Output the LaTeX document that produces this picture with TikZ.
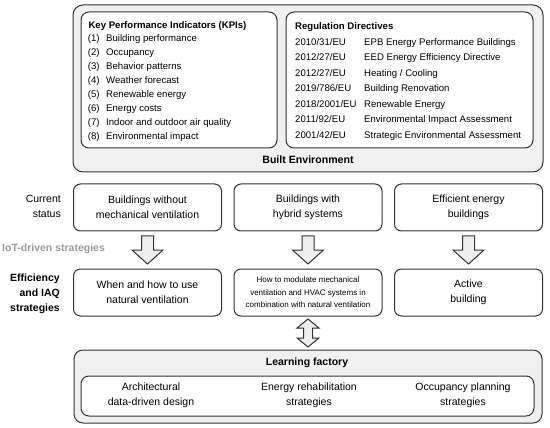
\documentclass[tikz,border=0pt]{standalone}
\usepackage{fontspec}
\setmainfont{Liberation Sans}
\usetikzlibrary{calc}
\definecolor{linec}{HTML}{333333}
\definecolor{panel}{HTML}{F0F0F0}
\definecolor{arrowfill}{HTML}{EEEEEE}
\definecolor{iotgray}{HTML}{999999}
\begin{document}
\begin{tikzpicture}[x=1pt,y=-1pt,
  panelnode/.style={draw=linec, line width=1pt, rounded corners=10pt, fill=panel, inner sep=0pt},
  innernode/.style={draw=linec, line width=1pt, rounded corners=8pt, fill=white, inner sep=0pt},
  stagebox/.style={draw=linec, line width=1pt, rounded corners=7pt, fill=white, minimum width=148pt, minimum height=47pt, inner sep=0pt, align=center, font=\fontsize{10.5}{15}\selectfont},
  smallbox/.style={stagebox, font=\fontsize{8}{12.5}\selectfont},
  listtext/.style={anchor=base west, inner sep=0pt, font=\fontsize{9.6}{12}\selectfont},
  listtitle/.style={anchor=base west, inner sep=0pt, font=\fontsize{9.6}{12}\selectfont\bfseries},
  sidelabel/.style={anchor=east, inner sep=0pt, align=right, font=\fontsize{10.5}{15}\selectfont},
  coltext/.style={inner sep=0pt, align=center, font=\fontsize{10.5}{15}\selectfont},
  arrowstyle/.style={draw=linec, line width=1pt, fill=arrowfill, line join=miter},
  downarr/.pic={\draw[arrowstyle] (-6,-14) -- (6,-14) -- (6,0) -- (15.5,0) -- (0,14) -- (-15.5,0) -- (-6,0) -- cycle;},
  updownarr/.pic={\draw[arrowstyle] (0,-14) -- (11,-5) -- (4.5,-5) -- (4.5,5) -- (11,5) -- (0,14) -- (-11,5) -- (-4.5,5) -- (-4.5,-5) -- (-11,-5) -- cycle;}
]
\useasboundingbox (0,0) rectangle (550,428);

% Built environment panel
\node[panelnode, minimum width=470pt, minimum height=167pt] (built) at (308,88.5) {};
\node[innernode, minimum width=196pt, minimum height=136pt] (kpi) at (179,80) {};
\node[innernode, minimum width=247pt, minimum height=136pt] (reg) at (409.5,80) {};

\node[listtitle] (kpititle) at (88.3,28.5) {Key Performance Indicators (KPIs)};
\foreach \t [count=\i from 0] in {Building performance, Occupancy, Behavior patterns, Weather forecast, Renewable energy, Energy costs, Indoor and outdoor air quality, Environmental impact}{
  \pgfmathtruncatemacro{\n}{\i+1}
  \node[listtext] (kpinum\n) at (87.7,{41.7+14*\i}) {(\n)};
  \node[listtext] (kpitxt\n) at (106,{41.7+14*\i}) {\t};
}

\node[listtitle] (regtitle) at (295,29.5) {Regulation Directives};
\node[listtext] (regc1) at (295,45.2) {2010/31/EU};
\node[listtext] (regd1) at (364,45.2) {EPB Energy Performance Buildings};
\node[listtext] (regc2) at (295,60.7) {2012/27/EU};
\node[listtext] (regd2) at (364,60.7) {EED Energy Efficiency Directive};
\node[listtext] (regc3) at (295,76.2) {2012/27/EU};
\node[listtext] (regd3) at (364,76.2) {Heating / Cooling};
\node[listtext] (regc4) at (295,91.7) {2019/786/EU};
\node[listtext] (regd4) at (364,91.7) {Building Renovation};
\node[listtext] (regc5) at (295,107.2) {2018/2001/EU};
\node[listtext] (regd5) at (364,107.2) {Renewable Energy};
\node[listtext] (regc6) at (295,122.7) {2011/92/EU};
\node[listtext] (regd6) at (364,122.7) {Environmental Impact Assessment};
\node[listtext] (regc7) at (295,138.2) {2001/42/EU};
\node[listtext] (regd7) at (364,138.2) {Strategic Environmental Assessment};

\node[inner sep=0pt, font=\fontsize{10.6}{12}\selectfont\bfseries] (builttitle) at (308,160) {Built Environment};

% Side labels
\node[sidelabel] (curlabel) at (61,206.5) {Current\\status};
\node[anchor=west, inner sep=0pt, text=iotgray, font=\fontsize{10.5}{12}\selectfont\bfseries] (iotlabel) at (2,249) {IoT-driven strategies};
\node[sidelabel, font=\fontsize{10.5}{15}\selectfont\bfseries] (efflabel) at (60,293.5) {Efficiency\\and IAQ\\strategies};

% Current status row
\node[stagebox] (s1) at (147.5,207.5) {Buildings without\\mechanical ventilation};
\node[stagebox] (s2) at (308,207.5) {Buildings with\\hybrid systems};
\node[stagebox] (s3) at (468.5,207.5) {Efficient energy\\buildings};

% Strategies row
\node[stagebox] (e1) at (147.5,292.5) {When and how to use\\natural ventilation};
\node[smallbox] (e2) at (308,292.5) {How to modulate mechanical\\ventilation and HVAC systems in\\combination with natural ventilation};
\node[stagebox] (e3) at (468.5,292.5) {Active\\building};

% Learning factory
\node[panelnode, rounded corners=9pt, minimum width=468pt, minimum height=73pt] (learn) at (308,386.5) {};
\node[inner sep=0pt, font=\fontsize{10.5}{12}\selectfont\bfseries] (learntitle) at (307,363) {Learning factory};
\node[innernode, minimum width=453pt, minimum height=40pt] (learninner) at (307.5,396) {};
\node[coltext] (lf1) at (151,395) {Architectural\\data-driven design};
\node[coltext] (lf2) at (309,395) {Energy rehabilitation\\strategies};
\node[coltext] (lf3) at (463,395) {Occupancy planning\\strategies};

% Block arrows
\path ($(s1.south)!0.5!(e1.north)$) pic {downarr};
\path ($(s2.south)!0.5!(e2.north)$) pic {downarr};
\path ($(s3.south)!0.5!(e3.north)$) pic {downarr};
\path ($(e2.south)!0.5!(learn.north)$) pic {updownarr};
\end{tikzpicture}
\end{document}
